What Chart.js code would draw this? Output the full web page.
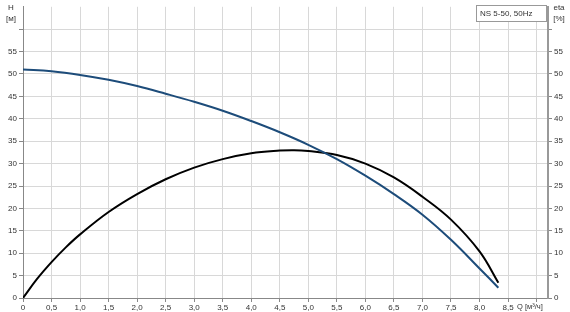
<!DOCTYPE html>
<html><head><meta charset="utf-8">
<script src="https://cdn.jsdelivr.net/npm/chart.js@4/dist/chart.umd.min.js"></script>
<style>html,body{margin:0;padding:0;background:#fff}#wrap{width:570px;height:312px}</style>
</head><body><div id="wrap"><canvas id="c" width="570" height="312"></canvas></div>
<script>
const flowQ = [0, 0.5, 1.0, 1.5, 2.0, 2.5, 3.0, 3.5, 4.0, 4.5, 5.0, 5.5, 6.0, 6.5, 7.0, 7.5, 8.0, 8.33];
const headH = [51.0, 50.6, 49.8, 48.7, 47.3, 45.6, 43.8, 41.8, 39.5, 37.0, 34.2, 31.0, 27.3, 23.2, 18.6, 13.0, 6.6, 2.3];
const effQ  = [0, 0.25, 0.5, 0.75, 1.0, 1.5, 2.0, 2.5, 3.0, 3.5, 4.0, 4.5, 4.75, 5.0, 5.5, 6.0, 6.5, 7.0, 7.5, 8.0, 8.33];
const effEta= [0, 4.3, 8.0, 11.3, 14.2, 19.2, 23.2, 26.5, 29.1, 31.0, 32.3, 32.9, 33.0, 32.8, 31.9, 30.0, 26.9, 22.6, 17.5, 10.4, 3.4];
const xTicks = [0,0.5,1,1.5,2,2.5,3,3.5,4,4.5,5,5.5,6,6.5,7,7.5,8,8.5,9];
const yTicks = [0,5,10,15,20,25,30,35,40,45,50,55,60];
const legendText = "NS 5-50, 50Hz";

const FONT = {family: "'Liberation Sans', Arial, sans-serif", size: 8};
const labelColor = '#333';

const overlay = {
  id: 'overlay',
  afterDraw(chart) {
    const ctx = chart.ctx;
    ctx.save();
    ctx.font = "8px 'Liberation Sans', Arial, sans-serif";
    ctx.fillStyle = labelColor;
    ctx.textBaseline = 'middle';
    ctx.textAlign = 'center';
    ctx.fillText('H', 11, 8);
    ctx.fillText('[м]', 11, 19);
    ctx.fillText('eta', 559, 8);
    ctx.fillText('[%]', 559, 19);
    ctx.textAlign = 'left';
    ctx.font = "7.5px 'Liberation Sans', Arial, sans-serif";
    ctx.fillText('Q [м³/ч]', 517, 307);
    // legend box
    ctx.font = "8px 'Liberation Sans', Arial, sans-serif";
    ctx.fillStyle = '#fff';
    ctx.fillRect(476.5, 5.5, 70, 16);
    ctx.strokeStyle = '#999';
    ctx.lineWidth = 1;
    ctx.strokeRect(476.5, 5.5, 70, 16);
    ctx.fillStyle = labelColor;
    ctx.fillText(legendText, 480, 14);
    ctx.restore();
  }
};

new Chart(document.getElementById('c'), {
  type: 'line',
  data: {
    datasets: [
      {label: 'H', data: flowQ.map((q,i)=>({x:q, y:headH[i]})), borderColor: '#1d4c7a', borderWidth: 2, pointRadius: 0, tension: 0.4, yAxisID: 'y'},
      {label: 'eta', data: effQ.map((q,i)=>({x:q, y:effEta[i]})), borderColor: '#000', borderWidth: 2, pointRadius: 0, tension: 0.4, yAxisID: 'y2'}
    ]
  },
  options: {
    responsive: false, animation: false, devicePixelRatio: 1,
    layout: {padding: {top: 5, left: 0, right: 0, bottom: 0}},
    plugins: {legend: {display: false}, tooltip: {enabled: false}},
    scales: {
      x: {
        type: 'linear', min: 0, max: 9.2,
        afterBuildTicks: s => { s.ticks = xTicks.map(v => ({value: v})); },
        afterFit: s => { s.height = 14; },
        border: {color: '#888', width: 1},
        grid: {color: '#d8d8d8', tickLength: 4, tickColor: '#888'},
        ticks: {font: FONT, color: labelColor, padding: 1, maxRotation: 0, autoSkip: false,
          callback: v => v > 8.5 ? '' : (v === 0 ? '0' : v.toFixed(1).replace('.', ','))}
      },
      y: {
        type: 'linear', position: 'left', min: 0, max: 65,
        afterBuildTicks: s => { s.ticks = yTicks.map(v => ({value: v})); },
        afterFit: s => { s.width = 23; },
        border: {color: '#888', width: 1},
        grid: {color: '#d8d8d8', tickLength: 4, tickColor: '#888'},
        ticks: {font: FONT, color: labelColor, padding: 2, callback: v => v > 55 ? '' : String(v)}
      },
      y2: {
        type: 'linear', position: 'right', min: 0, max: 65,
        afterBuildTicks: s => { s.ticks = yTicks.map(v => ({value: v})); },
        afterFit: s => { s.width = 22; },
        border: {color: '#999', width: 2},
        grid: {drawOnChartArea: false, tickLength: 4, tickColor: '#888'},
        ticks: {font: FONT, color: labelColor, padding: 2, callback: v => v > 55 ? '' : String(v)}
      }
    }
  },
  plugins: [overlay]
});
</script>
</body></html>
